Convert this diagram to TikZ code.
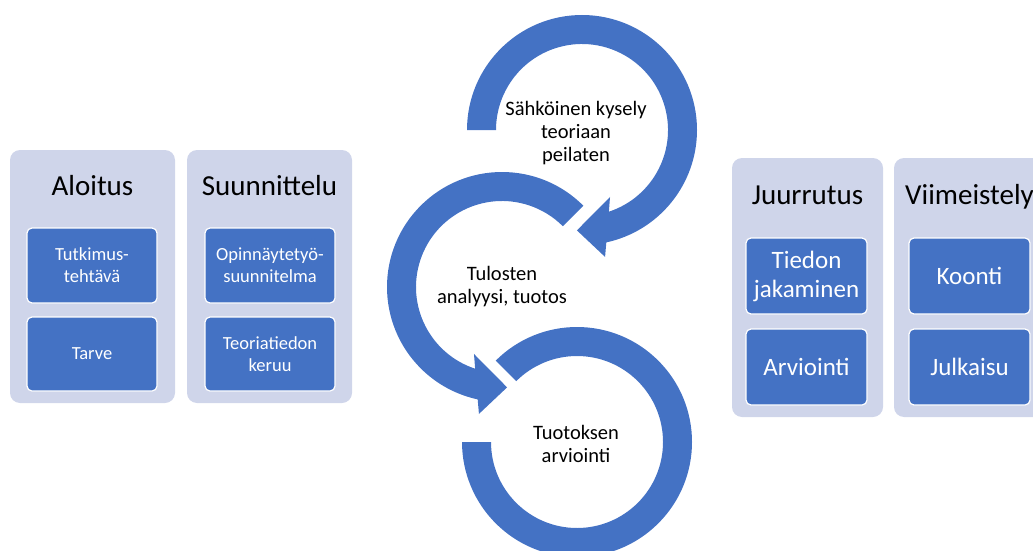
\documentclass[tikz,border=0pt]{standalone}
\usepackage{fontspec}
\setmainfont{Carlito}
\usetikzlibrary{calc}
\definecolor{ringblue}{HTML}{4472C4}
\definecolor{panelbg}{HTML}{CFD5EA}
\begin{document}
\begin{tikzpicture}[x=1pt,y=-1pt,
  panel/.style={fill=panelbg, rounded corners=10pt, inner sep=0pt},
  item/.style={fill=ringblue, draw=white, line width=1.2pt, rounded corners=5pt, inner sep=0pt, text=white, align=center},
  smallitem/.style={item, minimum width=130, minimum height=75, font=\fontsize{18.5}{22}\selectfont},
  bigitem/.style={item, minimum width=121, minimum height=76, font=\fontsize{25}{29}\selectfont},
  ptitle/.style={anchor=base, font=\fontsize{29}{35}\selectfont},
  ringtext/.style={anchor=base, align=center, font=\fontsize{20.5}{23}\selectfont},
  ring/.style={fill=ringblue}
]
\useasboundingbox (0,0) rectangle (1033,551);
\clip (0,0) rectangle (1033,551);

% left panels
\node[panel, minimum width=165, minimum height=253] (aloitus) at (92.5,276.5) {};
\node[ptitle] (aloitusT) at (92.5,195) {Aloitus};
\node[smallitem] (tutkimus) at (92,265.5) {Tutkimus-\\tehtävä};
\node[smallitem, minimum height=74] (tarve) at (92,354) {Tarve};

\node[panel, minimum width=165, minimum height=253] (suunnittelu) at (269.5,276.5) {};
\node[ptitle] (suunnitteluT) at (269.5,195) {Suunnittelu};
\node[smallitem] (opinn) at (270,265.5) {Opinnäytetyö-\\suunnitelma};
\node[smallitem, minimum height=74] (teoria) at (270,354) {Teoriatiedon\\keruu};

% right panels
\node[panel, minimum width=151, minimum height=259] (juurrutus) at (807.5,287.5) {};
\node[ptitle] (juurrutusT) at (807.5,204) {Juurrutus};
\node[bigitem] (tiedon) at (806.5,276) {Tiedon\\jakaminen};
\node[bigitem] (arviointi) at (806.5,367) {Arviointi};

\node[panel, minimum width=151, minimum height=259] (viimeistely) at (969.5,287.5) {};
\node[ptitle] (viimeistelyT) at (969.5,204) {Viimeistely};
\node[bigitem] (koonti) at (969.5,276) {Koonti};
\node[bigitem] (julkaisu) at (969.5,367) {Julkaisu};

% circular arrows
\coordinate (ct) at (582,130);
\coordinate (cm) at (502,287);
\coordinate (cb) at (577,442);

\fill[ring] ($(ct)+(-180:115)$) arc[start angle=-180, end angle=77.8, radius=115]
  -- ($(ct)+(79.7:129)$) -- ($(ct)+(92.9:100.5)$) -- ($(ct)+(67.3:72.6)$)
  -- ($(ct)+(71.8:86)$) arc[start angle=71.8, end angle=-180, radius=86] -- cycle;

\fill[ring] ($(cm)+(-45:115)$) arc[start angle=-45, end angle=-257.8, radius=115]
  -- ($(cm)+(-259.7:129)$) -- ($(cm)+(-272.9:100.5)$) -- ($(cm)+(-247.3:72.6)$)
  -- ($(cm)+(-251.8:86)$) arc[start angle=-251.8, end angle=-45, radius=86] -- cycle;

\fill[ring] ($(cb)+(-135:115)$) arc[start angle=-135, end angle=180, radius=115]
  -- ($(cb)+(180:86)$) arc[start angle=180, end angle=-135, radius=86] -- cycle;

\node[ringtext] (t1) at (576,161) {Sähköinen kysely\\teoriaan\\peilaten};
\node[ringtext] (t2) at (502,303) {Tulosten\\analyysi, tuotos};
\node[ringtext] (t3) at (576,462) {Tuotoksen\\arviointi};
\end{tikzpicture}
\end{document}
